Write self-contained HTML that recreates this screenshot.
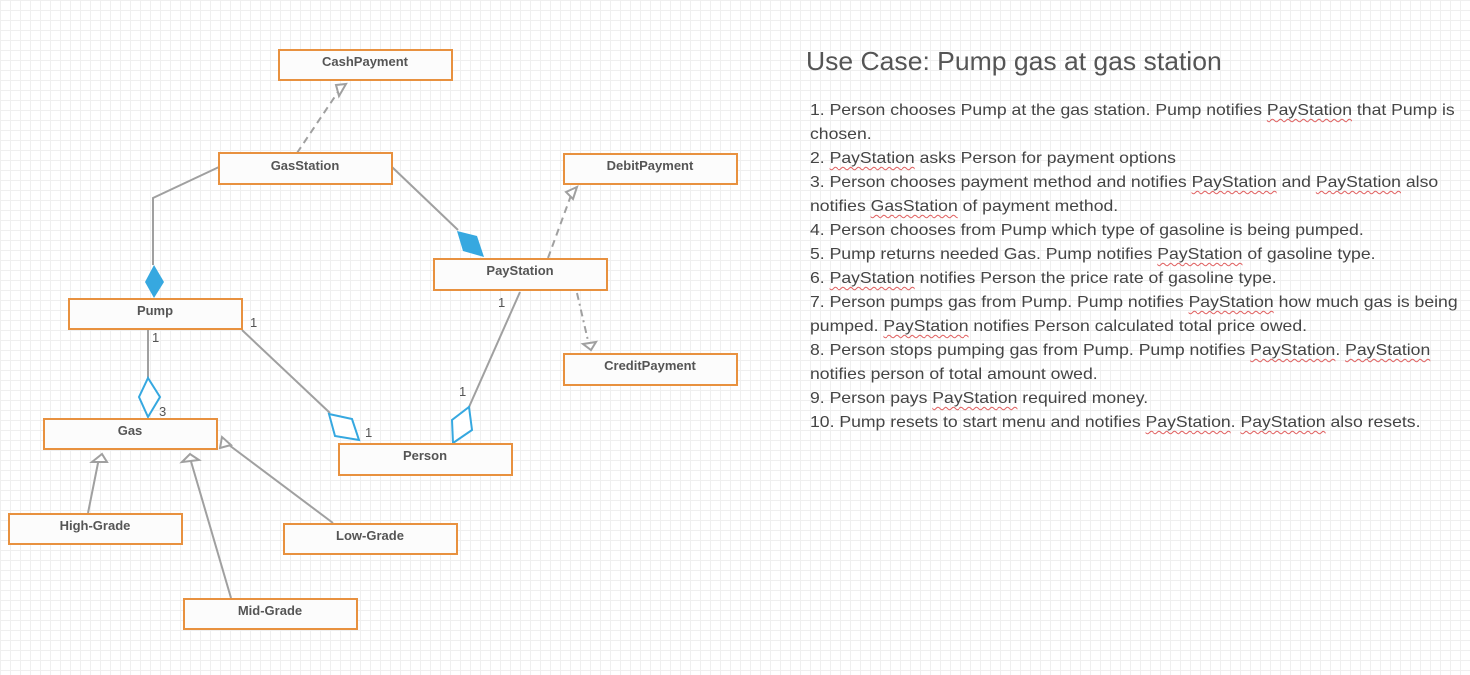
<!DOCTYPE html>
<html><head><meta charset="utf-8"><style>
html,body{margin:0;padding:0;}
body{width:1470px;height:675px;overflow:hidden;position:relative;background-color:#fff;
background-image:linear-gradient(#efefef 1px,transparent 1px),linear-gradient(90deg,#efefef 1px,transparent 1px);
background-size:10px 10px;font-family:"Liberation Sans",sans-serif;}
svg{position:absolute;left:0;top:0;}
.title{position:absolute;left:806px;top:46px;font-size:26px;color:#555;white-space:nowrap;transform:scaleX(1.02);transform-origin:left top;}
.txt{position:absolute;left:810px;top:99px;font-size:16px;line-height:24px;color:#444;white-space:nowrap;transform:scaleX(1.1);transform-origin:left top;}
.s{text-decoration:underline wavy #e06060;text-decoration-thickness:1px;text-underline-offset:3px;}
</style></head><body>
<svg width="1470" height="675" xmlns="http://www.w3.org/2000/svg" font-family="Liberation Sans, sans-serif">
<g stroke="#a0a0a0" stroke-width="2" fill="none">
<line x1="297" y1="153" x2="342" y2="86" stroke-dasharray="7,5"/>
<polyline points="219,167 153,198 153,265"/>
<line x1="392" y1="167" x2="458" y2="230"/>
<line x1="548" y1="258" x2="573" y2="190" stroke-dasharray="7,5"/>
<line x1="577" y1="293" x2="589" y2="345" stroke-dasharray="7,4,2,4"/>
<line x1="148" y1="330" x2="148" y2="378"/>
<line x1="242" y1="330" x2="330" y2="413"/>
<line x1="520" y1="292" x2="469" y2="407"/>
<line x1="88" y1="513" x2="99" y2="458"/>
<line x1="231" y1="598" x2="190" y2="458"/>
<line x1="333" y1="523" x2="225" y2="442"/>
<polygon points="336,85 346,84 339,96" fill="#fff"/>
<polygon points="566,192 577,187 573,199" fill="#fff"/>
<polygon points="583,344 596,342 591,350" fill="#fff"/>
<polygon points="92,462 102,454 107,462" fill="#fff"/>
<polygon points="182,462 190,454 199,460" fill="#fff"/>
<polygon points="220,448 222,437 231,445" fill="#fff"/>
</g>
<polygon points="154,265 164,282 154,298 145,282" fill="#36a8e0"/>
<polygon points="457,231 477,236 484,257 463,251" fill="#36a8e0"/>
<g stroke="#36a8e0" stroke-width="2" fill="#fff">
<polygon points="148,378 160,397 148,417 139,397"/>
<polygon points="329,414 352,419 359,440 335,436"/>
<polygon points="469,407 472,430 453,443 452,420"/>
</g>
<g fill="#fcfcfc" stroke="#e8913f" stroke-width="2">
<rect x="279" y="50" width="173" height="30"/>
<rect x="219" y="153" width="173" height="31"/>
<rect x="564" y="154" width="173" height="30"/>
<rect x="434" y="259" width="173" height="31"/>
<rect x="69" y="299" width="173" height="30"/>
<rect x="564" y="354" width="173" height="31"/>
<rect x="44" y="419" width="173" height="30"/>
<rect x="339" y="444" width="173" height="31"/>
<rect x="9" y="514" width="173" height="30"/>
<rect x="284" y="524" width="173" height="30"/>
<rect x="184" y="599" width="173" height="30"/>
</g>
<g font-size="13" font-weight="bold" fill="#555" text-anchor="middle">
<text x="365" y="66">CashPayment</text>
<text x="305" y="170">GasStation</text>
<text x="650" y="170">DebitPayment</text>
<text x="520" y="275">PayStation</text>
<text x="155" y="315">Pump</text>
<text x="650" y="370">CreditPayment</text>
<text x="130" y="435">Gas</text>
<text x="425" y="460">Person</text>
<text x="95" y="530">High-Grade</text>
<text x="370" y="540">Low-Grade</text>
<text x="270" y="615">Mid-Grade</text>
</g>
<g font-size="13" fill="#555">
<text x="152" y="342">1</text>
<text x="159" y="416">3</text>
<text x="250" y="327">1</text>
<text x="365" y="437">1</text>
<text x="498" y="307">1</text>
<text x="459" y="396">1</text>
</g>
</svg>
<div class="title">Use Case: Pump gas at gas station</div>
<div class="txt">
1. Person chooses Pump at the gas station. Pump notifies <span class="s">PayStation</span> that Pump is<br>
chosen.<br>
2. <span class="s">PayStation</span> asks Person for payment options<br>
3. Person chooses payment method and notifies <span class="s">PayStation</span> and <span class="s">PayStation</span> also<br>
notifies <span class="s">GasStation</span> of payment method.<br>
4. Person chooses from Pump which type of gasoline is being pumped.<br>
5. Pump returns needed Gas. Pump notifies <span class="s">PayStation</span> of gasoline type.<br>
6. <span class="s">PayStation</span> notifies Person the price rate of gasoline type.<br>
7. Person pumps gas from Pump. Pump notifies <span class="s">PayStation</span> how much gas is being<br>
pumped. <span class="s">PayStation</span> notifies Person calculated total price owed.<br>
8. Person stops pumping gas from Pump. Pump notifies <span class="s">PayStation</span>. <span class="s">PayStation</span><br>
notifies person of total amount owed.<br>
9. Person pays <span class="s">PayStation</span> required money.<br>
10. Pump resets to start menu and notifies <span class="s">PayStation</span>. <span class="s">PayStation</span> also resets.
</div>
</body></html>
